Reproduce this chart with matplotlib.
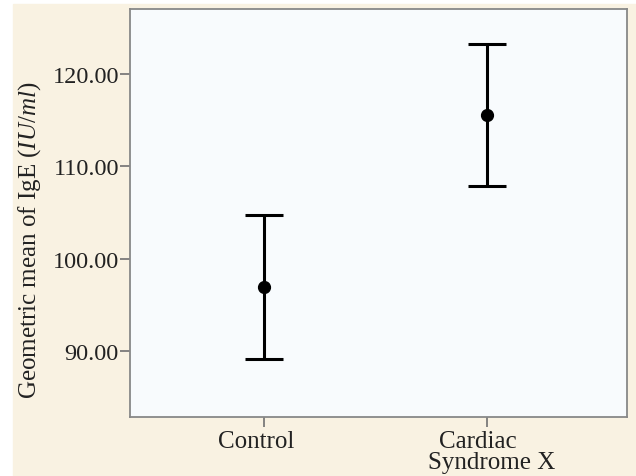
import matplotlib.pyplot as plt
from matplotlib.patches import Rectangle

# Data
groups = ["Control", "Cardiac", "Syndrome X"]
means = [96.9, 115.6]
lower = [89.1, 107.9]
upper = [104.7, 123.3]
yticks = [90, 100, 110, 120]

plt.rcParams["font.family"] = ["Liberation Serif", "DejaVu Serif"]
plt.rcParams["mathtext.fontset"] = "custom"
plt.rcParams["mathtext.rm"] = "Liberation Serif"
plt.rcParams["mathtext.it"] = "Liberation Serif:italic"

W, H = 636, 477
fig = plt.figure(figsize=(W / 100, H / 100), dpi=100)
fig.patch.set_facecolor("white")
fig.patches.append(Rectangle((13 / W, 0), 1 - 13 / W, 1 - 5 / H,
                             transform=fig.transFigure, color="#f9f2e2", zorder=-5))

ax = fig.add_axes([130 / W, 1 - 418 / H, (627 - 130) / W, (418 - 10) / H])
ax.set_facecolor("#f8fbfd")

x = [0, 1]
err = [[m - l for m, l in zip(means, lower)], [u - m for u, m in zip(upper, means)]]
ax.errorbar(x, means, yerr=err, fmt="o", color="black", ms=8.5, lw=2.2,
            capsize=13.5, capthick=2.2)

ax.set_xlim(-0.603, 1.629)
ax.set_ylim(82.85, 127.05)
ax.set_xticks(x)
ax.set_xticklabels(["", ""])
ax.set_yticks(yticks)
ax.set_yticklabels([f"{v:.2f}" for v in yticks], fontsize=17.5, color="#222222")
ax.tick_params(axis="both", color="#707070", length=7, width=1.2)
ax.tick_params(axis="y", pad=1)
for s in ax.spines.values():
    s.set_color("#888888")
    s.set_linewidth(1.3)

# category labels, placed a little off-centre like the original
tr = ax.get_xaxis_transform()
ax.text(x[0] - 0.036, -0.0735, groups[0], transform=tr, ha="center", va="baseline",
        fontsize=18, color="#222222")
ax.text(x[1] - 0.04, -0.0735, groups[1], transform=tr, ha="center", va="baseline",
        fontsize=18, color="#222222")
ax.text(x[1] + 0.022, -0.125, groups[2], transform=tr, ha="center", va="baseline",
        fontsize=18, color="#222222")

fig.text(30 / W, 1 - 240 / H, r"Geometric mean of IgE $\mathit{(IU/ml)}$",
         rotation=90, ha="center", va="center", fontsize=18, color="#222222")

fig.savefig("out.png", dpi=100)
